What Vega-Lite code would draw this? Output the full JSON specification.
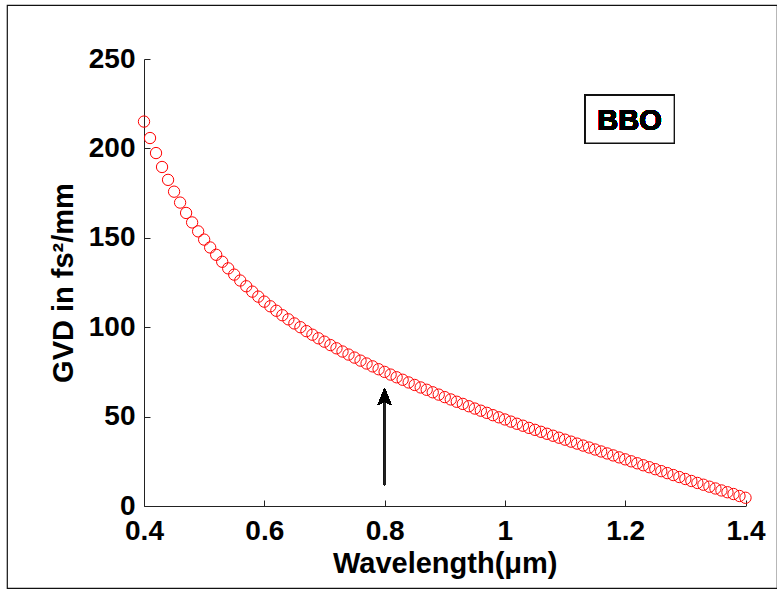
{
  "$schema": "https://vega.github.io/schema/vega-lite/v6.json",
  "autosize": "none",
  "width": 770,
  "height": 583,
  "padding": {"left": 7, "top": 5, "right": 0, "bottom": 3},
  "background": "white",
  "config": {
    "font": "Liberation Sans",
    "view": {"stroke": "#111111", "strokeWidth": 1.2},
    "axis": {
      "grid": false,
      "labelFlush": false,
      "labelOverlap": false,
      "domainColor": "#222222",
      "tickColor": "#222222",
      "tickSize": -6,
      "labelFont": "Liberation Sans",
      "labelFontWeight": "bold",
      "labelFontSize": 28,
      "labelColor": "black",
      "titleFont": "Liberation Sans",
      "titleFontWeight": "bold",
      "titleFontSize": 29,
      "titleColor": "black"
    }
  },
  "data": {"values": [
    {"wavelength": 0.40, "gvd": 215.0}, {"wavelength": 0.41, "gvd": 205.8}, {"wavelength": 0.42, "gvd": 197.4},
    {"wavelength": 0.43, "gvd": 189.6}, {"wavelength": 0.44, "gvd": 182.4}, {"wavelength": 0.45, "gvd": 175.8},
    {"wavelength": 0.46, "gvd": 169.7}, {"wavelength": 0.47, "gvd": 163.9}, {"wavelength": 0.48, "gvd": 158.6},
    {"wavelength": 0.49, "gvd": 153.6}, {"wavelength": 0.50, "gvd": 149.0}, {"wavelength": 0.51, "gvd": 144.6},
    {"wavelength": 0.52, "gvd": 140.5}, {"wavelength": 0.53, "gvd": 136.6}, {"wavelength": 0.54, "gvd": 132.9},
    {"wavelength": 0.55, "gvd": 129.4}, {"wavelength": 0.56, "gvd": 126.1}, {"wavelength": 0.57, "gvd": 122.9},
    {"wavelength": 0.58, "gvd": 119.9}, {"wavelength": 0.59, "gvd": 117.1}, {"wavelength": 0.60, "gvd": 114.3},
    {"wavelength": 0.61, "gvd": 111.7}, {"wavelength": 0.62, "gvd": 109.2}, {"wavelength": 0.63, "gvd": 106.7},
    {"wavelength": 0.64, "gvd": 104.4}, {"wavelength": 0.65, "gvd": 102.1}, {"wavelength": 0.66, "gvd": 100.0},
    {"wavelength": 0.67, "gvd": 97.8}, {"wavelength": 0.68, "gvd": 95.8}, {"wavelength": 0.69, "gvd": 93.8},
    {"wavelength": 0.70, "gvd": 91.9}, {"wavelength": 0.71, "gvd": 90.0}, {"wavelength": 0.72, "gvd": 88.2},
    {"wavelength": 0.73, "gvd": 86.4}, {"wavelength": 0.74, "gvd": 84.7}, {"wavelength": 0.75, "gvd": 83.0},
    {"wavelength": 0.76, "gvd": 81.3}, {"wavelength": 0.77, "gvd": 79.7}, {"wavelength": 0.78, "gvd": 78.1},
    {"wavelength": 0.79, "gvd": 76.5}, {"wavelength": 0.80, "gvd": 75.0}, {"wavelength": 0.81, "gvd": 73.5},
    {"wavelength": 0.82, "gvd": 72.0}, {"wavelength": 0.83, "gvd": 70.6}, {"wavelength": 0.84, "gvd": 69.1},
    {"wavelength": 0.85, "gvd": 67.7}, {"wavelength": 0.86, "gvd": 66.3}, {"wavelength": 0.87, "gvd": 65.0},
    {"wavelength": 0.88, "gvd": 63.6}, {"wavelength": 0.89, "gvd": 62.3}, {"wavelength": 0.90, "gvd": 60.9},
    {"wavelength": 0.91, "gvd": 59.6}, {"wavelength": 0.92, "gvd": 58.3}, {"wavelength": 0.93, "gvd": 57.1},
    {"wavelength": 0.94, "gvd": 55.8}, {"wavelength": 0.95, "gvd": 54.5}, {"wavelength": 0.96, "gvd": 53.3},
    {"wavelength": 0.97, "gvd": 52.1}, {"wavelength": 0.98, "gvd": 50.8}, {"wavelength": 0.99, "gvd": 49.6},
    {"wavelength": 1.00, "gvd": 48.4}, {"wavelength": 1.01, "gvd": 47.2}, {"wavelength": 1.02, "gvd": 46.0},
    {"wavelength": 1.03, "gvd": 44.9}, {"wavelength": 1.04, "gvd": 43.7}, {"wavelength": 1.05, "gvd": 42.6},
    {"wavelength": 1.06, "gvd": 41.5}, {"wavelength": 1.07, "gvd": 40.4}, {"wavelength": 1.08, "gvd": 39.3},
    {"wavelength": 1.09, "gvd": 38.2}, {"wavelength": 1.10, "gvd": 37.1}, {"wavelength": 1.11, "gvd": 36.0},
    {"wavelength": 1.12, "gvd": 34.9}, {"wavelength": 1.13, "gvd": 33.8}, {"wavelength": 1.14, "gvd": 32.7},
    {"wavelength": 1.15, "gvd": 31.6}, {"wavelength": 1.16, "gvd": 30.5}, {"wavelength": 1.17, "gvd": 29.4},
    {"wavelength": 1.18, "gvd": 28.3}, {"wavelength": 1.19, "gvd": 27.2}, {"wavelength": 1.20, "gvd": 26.1},
    {"wavelength": 1.21, "gvd": 25.0}, {"wavelength": 1.22, "gvd": 23.9}, {"wavelength": 1.23, "gvd": 22.8},
    {"wavelength": 1.24, "gvd": 21.7}, {"wavelength": 1.25, "gvd": 20.6}, {"wavelength": 1.26, "gvd": 19.5},
    {"wavelength": 1.27, "gvd": 18.4}, {"wavelength": 1.28, "gvd": 17.3}, {"wavelength": 1.29, "gvd": 16.2},
    {"wavelength": 1.30, "gvd": 15.1}, {"wavelength": 1.31, "gvd": 14.0}, {"wavelength": 1.32, "gvd": 12.9},
    {"wavelength": 1.33, "gvd": 11.9}, {"wavelength": 1.34, "gvd": 10.8}, {"wavelength": 1.35, "gvd": 9.8},
    {"wavelength": 1.36, "gvd": 8.7}, {"wavelength": 1.37, "gvd": 7.7}, {"wavelength": 1.38, "gvd": 6.7},
    {"wavelength": 1.39, "gvd": 5.6}, {"wavelength": 1.40, "gvd": 4.6}
  ]},
  "encoding": {
    "x": {
      "type": "quantitative",
      "scale": {"domain": [0.4, 1.4], "range": [137, 738.5], "nice": false, "zero": false},
      "axis": {
        "title": "Wavelength(μm)",
        "values": [0.4, 0.6, 0.8, 1, 1.2, 1.4],
        "format": "~g",
        "offset": -82,
        "labelPadding": 17,
        "labelBaseline": "top",
        "labelAlign": "center",
        "titleBaseline": "alphabetic",
        "titleX": 437.75,
        "titleY": 66
      }
    },
    "y": {
      "type": "quantitative",
      "scale": {"domain": [0, 250], "range": [501, 54], "nice": false},
      "axis": {
        "title": "GVD in fs²/mm",
        "values": [0, 50, 100, 150, 200, 250],
        "offset": -137,
        "labelPadding": 15,
        "labelBaseline": "middle",
        "titleBaseline": "alphabetic",
        "titleAngle": -90,
        "titleX": -72,
        "titleY": 277.5
      }
    }
  },
  "layer": [
    {
      "mark": {"type": "point", "shape": "circle", "filled": false, "color": "#ff0000", "size": 128, "strokeWidth": 1, "opacity": 1},
      "encoding": {
        "x": {"field": "wavelength"},
        "y": {"field": "gvd"}
      }
    },
    {
      "mark": {"type": "rect", "fill": "white", "stroke": "#111111", "strokeWidth": 1.3},
      "encoding": {
        "x": {"datum": 1.1337},
        "x2": {"datum": 1.2816},
        "y": {"datum": 229.7},
        "y2": {"datum": 203.0}
      }
    },
    {
      "mark": {"type": "text", "text": "BBO", "font": "Liberation Sans", "fontWeight": "bold", "fontSize": 29, "align": "center", "baseline": "alphabetic", "color": "black"},
      "encoding": {
        "x": {"datum": 1.2073},
        "y": {"datum": 210.3}
      }
    },
    {
      "mark": {"type": "rule", "color": "#222222", "strokeWidth": 1.3},
      "encoding": {
        "x": {"datum": 0.8},
        "y": {"datum": 11.7},
        "y2": {"datum": 60}
      }
    },
    {
      "mark": {"type": "point", "shape": "M0,-1L0.8,1L0,0.6L-0.8,1Z", "size": 289, "filled": true, "color": "black", "opacity": 1, "strokeWidth": 0},
      "encoding": {
        "x": {"datum": 0.8},
        "y": {"datum": 61.2}
      }
    }
  ]
}
